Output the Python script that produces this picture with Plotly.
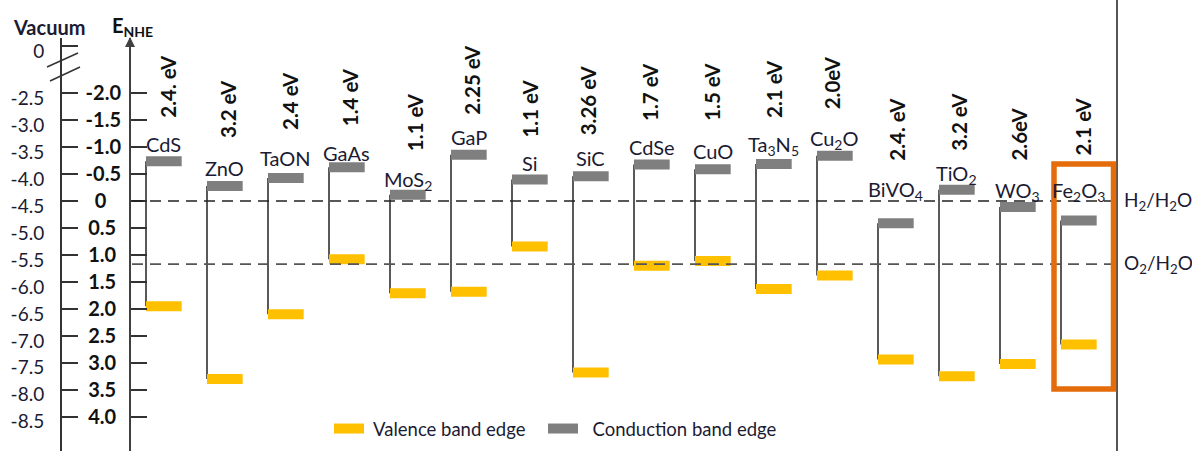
import plotly.graph_objects as go

# ---------------- data ----------------
materials = ["CdS", "ZnO", "TaON", "GaAs", "MoS<sub>2</sub>", "GaP", "Si", "SiC",
             "CdSe", "CuO", "Ta<sub>3</sub>N<sub>5</sub>", "Cu<sub>2</sub>O",
             "BiVO<sub>4</sub>", "TiO<sub>2</sub>", "WO<sub>3</sub>", "Fe<sub>2</sub>O<sub>3</sub>"]
gap_labels = ["2.4. eV", "3.2 eV", "2.4 eV", "1.4 eV", "1.1 eV", "2.25 eV", "1.1 eV", "3.26 eV",
              "1.7 eV", "1.5 eV", "2.1 eV", "2.0eV", "2.4. eV", "3.2 eV", "2.6eV", "2.1 eV"]
# band edges vs NHE (V)
cb_edge = [-0.74, -0.28, -0.43, -0.63, -0.12, -0.86, -0.40, -0.46,
           -0.68, -0.59, -0.69, -0.84, 0.41, -0.21, 0.11, 0.36]
vb_edge = [1.95, 3.30, 2.10, 1.08, 1.71, 1.68, 0.84, 3.18,
           1.20, 1.11, 1.63, 1.38, 2.94, 3.25, 3.02, 2.66]

h2_level = 0.0
o2_level = 1.17

nhe_ticks = [-2.0, -1.5, -1.0, -0.5, 0.0, 0.5, 1.0, 1.5, 2.0, 2.5, 3.0, 3.5, 4.0]
nhe_tick_labels = ["-2.0", "-1.5", "-1.0", "-0.5", "0", "0.5", "1.0", "1.5", "2.0",
                   "2.5", "3.0", "3.5", "4.0"]
vac_tick_labels = ["0", "-2.5", "-3.0", "-3.5", "-4.0", "-4.5", "-5.0", "-5.5", "-6.0",
                   "-6.5", "-7.0", "-7.5", "-8.0", "-8.5"]

# ---------------- layout helpers ----------------
W, H = 1192, 451
X0_PX, X_STEP = 146.0, 61.0          # pixel of first material, pixels per material
Y0_PX, Y_STEP = 201.1, 53.9          # pixel of 0 V NHE, pixels per volt
TOP_PX = 38.0                        # top of the axes lines
BAR_W = 0.585

def px_x(px):
    return (px - X0_PX) / X_STEP

def px_y(py):
    return (py - Y0_PX) / Y_STEP

vac_zero_pos = px_y(46)   # vacuum 0 tick sits above an axis break
vac_tickvals = [vac_zero_pos] + nhe_ticks

label_lift = [17, 18, 20, 14, 14, 18, 17, 18, 17.5, 18.5, 18, 16, 33, 15, 16, 29]
ev_lift = [41, 46, 46, 39, 41.5, 38, 40, 39, 41.5, 46.5, 44, 44, 60, 37, 44, 63]
ev_dx = [22, 21, 22, 21, 25, 21, 18, 15, 16, 17, 18, 15, 19, 20, 19, 21]

YELLOW = "#FFC000"
GRAY = "#7F7F7F"
TXT = "#1b1b33"
FONT = "Lato"

n = len(materials)
xs = list(range(n))

fig = go.Figure()

# connectors
cx, cy = [], []
for i in xs:
    cx += [i, i, None]
    cy += [cb_edge[i], vb_edge[i], None]
fig.add_trace(go.Scatter(x=cx, y=cy, mode="lines", line=dict(color="#222222", width=1.5),
                         showlegend=False, hoverinfo="skip"))

def bars(vals):
    bx, by = [], []
    for i in xs:
        bx += [i, i + BAR_W, None]
        by += [vals[i], vals[i], None]
    return bx, by

vx, vy = bars(vb_edge)
fig.add_trace(go.Scatter(x=vx, y=vy, mode="lines", line=dict(color=YELLOW, width=10),
                         name="\u00a0Valence band edge", hoverinfo="skip", legend="legend"))
bx_, by_ = bars(cb_edge)
fig.add_trace(go.Scatter(x=bx_, y=by_, mode="lines", line=dict(color=GRAY, width=10),
                         name="\u00a0\u00a0Conduction band edge", hoverinfo="skip", legend="legend2"))
# dummy trace so the vacuum axis is drawn
fig.add_trace(go.Scatter(x=[None], y=[None], yaxis="y2", showlegend=False, hoverinfo="skip"))

ann = []
for i in xs:
    ann.append(dict(x=i + BAR_W / 2, y=cb_edge[i], xref="x", yref="y", text=materials[i],
                    showarrow=False, yshift=label_lift[i], xanchor="center", yanchor="middle",
                    font=dict(family=FONT, size=20, color=TXT)))
    ann.append(dict(x=i + ev_dx[i] / X_STEP, y=cb_edge[i], xref="x", yref="y", text=gap_labels[i],
                    showarrow=False, textangle=-90, yshift=ev_lift[i], xanchor="center",
                    yanchor="bottom", font=dict(family=FONT, size=20.5, color="#111111", weight="bold")))

ann += [
    dict(x=1122 / W, y=h2_level, xref="paper", yref="y", text="H<sub>2</sub>/H<sub>2</sub>O",
         showarrow=False, xanchor="left", yanchor="middle", font=dict(family=FONT, size=19, color=TXT)),
    dict(x=1122 / W, y=o2_level, xref="paper", yref="y", text="O<sub>2</sub>/H<sub>2</sub>O",
         showarrow=False, xanchor="left", yanchor="middle", font=dict(family=FONT, size=19, color=TXT)),
    dict(x=49 / W, y=1 - 27 / H, xref="paper", yref="paper", text="Vacuum", showarrow=False,
         xanchor="center", yanchor="middle", font=dict(family=FONT, size=20, color=TXT, weight="bold")),
    dict(x=110 / W, y=1 - 27 / H, xref="paper", yref="paper", text="E<sub>NHE</sub>", showarrow=False,
         xanchor="left", yanchor="middle", font=dict(family=FONT, size=20, color="#111111", weight="bold")),
    dict(x=130 / W, y=1 - 37 / H, xref="paper", yref="paper", text="", showarrow=True,
         ax=0, ay=12, arrowhead=2, arrowsize=1, arrowwidth=2, arrowcolor="#404040"),
]

shapes = [
    dict(type="line", xref="x", yref="y", x0=px_x(132), x1=px_x(1118), y0=h2_level, y1=h2_level,
         line=dict(color="#222222", width=1.5, dash="11px,7px")),
    dict(type="line", xref="x", yref="y", x0=px_x(132), x1=px_x(1118), y0=o2_level, y1=o2_level,
         line=dict(color="#555555", width=1.8, dash="11px,7px")),
    dict(type="line", xref="paper", yref="paper", x0=1117 / W, x1=1117 / W, y0=0, y1=1,
         line=dict(color="#555555", width=2)),
    dict(type="rect", xref="x", yref="y", x0=px_x(1054), x1=px_x(1113.5), y0=px_y(164), y1=px_y(389),
         line=dict(color="#E46C0A", width=5.5)),
    # axis break marks
    dict(type="line", xref="paper", yref="paper", x0=47 / W, x1=78 / W, y0=1 - 67 / H, y1=1 - 53 / H,
         line=dict(color="#333333", width=1.5)),
    dict(type="line", xref="paper", yref="paper", x0=50 / W, x1=80 / W, y0=1 - 81 / H, y1=1 - 67 / H,
         line=dict(color="#333333", width=1.5)),
]

y_range = [px_y(H), px_y(TOP_PX)]
y_domain = [0, 1 - TOP_PX / H]

legend_style = dict(orientation="h", y=1 - 429 / H, xanchor="left", yanchor="middle",
                    font=dict(family=FONT, size=18.5, color=TXT), bgcolor="rgba(0,0,0,0)")

fig.update_layout(
    width=W, height=H, margin=dict(l=0, r=0, t=0, b=0),
    paper_bgcolor="white", plot_bgcolor="white",
    xaxis=dict(range=[px_x(0), px_x(W)], visible=False, fixedrange=True),
    yaxis=dict(range=y_range, domain=y_domain, anchor="free", position=130 / W, side="left",
               showline=True, linecolor="#404040", linewidth=2, showgrid=False, zeroline=False,
               ticks="inside", ticklen=16, tickwidth=2, tickcolor="#333333",
               tickvals=nhe_ticks, ticktext=[t if t.startswith("-") else t + "\u00a0" * (3 if t == "0" else 1)
                                             for t in nhe_tick_labels],
               tickfont=dict(family=FONT, size=20, color="#111111", weight="bold"),
               ticklabelstandoff=4, automargin=False, fixedrange=True),
    yaxis2=dict(range=y_range, overlaying="y", anchor="free", position=61 / W, side="left",
                showline=True, linecolor="#333333", linewidth=2, showgrid=False, zeroline=False,
                ticks="inside", ticklen=16, tickwidth=2, tickcolor="#333333",
                tickvals=vac_tickvals, ticktext=vac_tick_labels, ticklabelshift=-5,
                tickfont=dict(family=FONT, size=19, color=TXT),
                ticklabelstandoff=12, automargin=False, fixedrange=True),
    legend=dict(x=329 / W, **legend_style),
    legend2=dict(x=543 / W, **legend_style),
    annotations=ann, shapes=shapes, showlegend=True,
)

fig.write_html("out.html", config={"displayModeBar": False},
               post_script="document.body.style.margin='0';document.body.style.overflow='hidden';")
